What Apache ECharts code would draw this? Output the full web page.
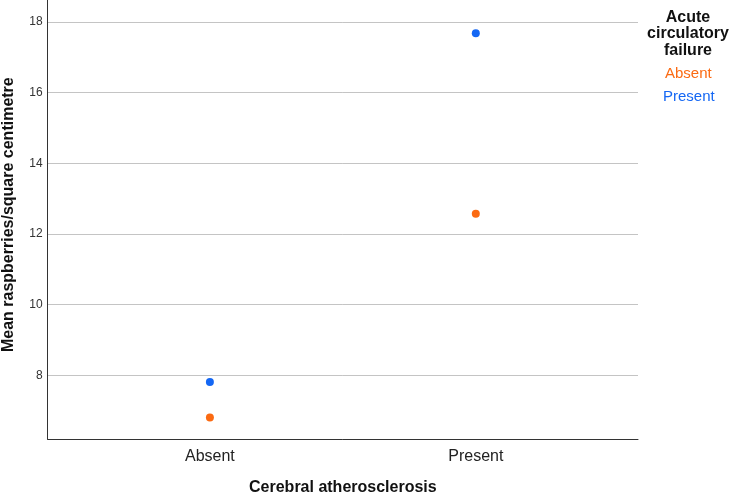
<!DOCTYPE html>
<html><head><meta charset="utf-8">
<script src="https://cdn.jsdelivr.net/npm/echarts@6/dist/echarts.min.js"></script>
<style>html,body{margin:0;padding:0;background:#fff}#c{width:729px;height:495px}</style>
</head><body><div id="c"></div>
<script>
var categories = ['Absent', 'Present'];
var groupNames = ['Absent', 'Present'];
var absentValues = [6.81, 12.57];
var presentValues = [7.81, 17.68];
var yTicks = [8, 10, 12, 14, 16, 18];
var colors = ['#fb6a12', '#1467f4'];
var FONT = '"Liberation Sans", Arial, sans-serif';

function pts(vals){ return vals.map(function(v,i){ return [i, v]; }); }

var chart = echarts.init(document.getElementById('c'));
chart.setOption({
  animation: false,
  textStyle: {fontFamily: FONT},
  grid: {left: 47.7, right: 91, top: 0, bottom: 55.7, containLabel: false, outerBoundsMode: 'none'},
  title: {
    text: 'Acute\ncirculatory\nfailure',
    left: 688, top: 9, padding: 0, textAlign: 'center',
    textStyle: {fontFamily: FONT, fontWeight: 'bold', fontSize: 16, lineHeight: 16.5, color: '#111'}
  },
  legend: [
    {
      left: 660, top: 66.5, padding: 0,
      itemWidth: 0, itemHeight: 0, icon: 'rect', selectedMode: false,
      data: [{name: groupNames[0], textStyle: {color: colors[0]}}],
      textStyle: {fontFamily: FONT, fontSize: 15}
    },
    {
      left: 658, top: 89.5, padding: 0,
      itemWidth: 0, itemHeight: 0, icon: 'rect', selectedMode: false,
      data: [{name: groupNames[1], textStyle: {color: colors[1]}}],
      textStyle: {fontFamily: FONT, fontSize: 15}
    }
  ],
  xAxis: {
    type: 'value', min: -0.61, max: 1.61,
    name: 'Cerebral atherosclerosis', nameLocation: 'middle', nameGap: 40,
    nameTextStyle: {fontFamily: FONT, fontWeight: 'bold', fontSize: 16, color: '#111'},
    axisLine: {show: true, onZero: false, lineStyle: {color: '#333', width: 1}},
    axisTick: {show: false},
    splitLine: {show: false},
    axisLabel: {
      fontFamily: FONT, fontSize: 16, color: '#222', margin: 9,
      showMinLabel: false, showMaxLabel: false,
      formatter: function(v){ var i = Math.round(v); return (Math.abs(v - i) < 1e-6 && categories[i]) ? categories[i] : ''; }
    }
  },
  yAxis: {
    type: 'value', min: 6.19, max: 18.62, splitNumber: 6,
    name: 'Mean raspberries/square centimetre', nameLocation: 'middle', nameGap: 31,
    nameTextStyle: {fontFamily: FONT, fontWeight: 'bold', fontSize: 16, color: '#111', padding: [0, 0, 0, 10]},
    axisLine: {show: true, onZero: false, lineStyle: {color: '#333', width: 1}},
    axisTick: {show: false},
    splitLine: {show: true, showMinLine: false, showMaxLine: false, lineStyle: {color: '#c4c4c4', width: 1}},
    axisLabel: {
      fontFamily: FONT, fontSize: 12, color: '#333', margin: 5,
      showMinLabel: false, showMaxLabel: false,
      formatter: function(v){ return yTicks.indexOf(Math.round(v*1000)/1000) >= 0 ? String(v) : ''; }
    }
  },
  series: [
    {name: groupNames[0], type: 'scatter', symbolSize: 8, itemStyle: {color: colors[0], opacity: 1}, data: pts(absentValues)},
    {name: groupNames[1], type: 'scatter', symbolSize: 8, itemStyle: {color: colors[1], opacity: 1}, data: pts(presentValues)}
  ]
});
</script></body></html>
